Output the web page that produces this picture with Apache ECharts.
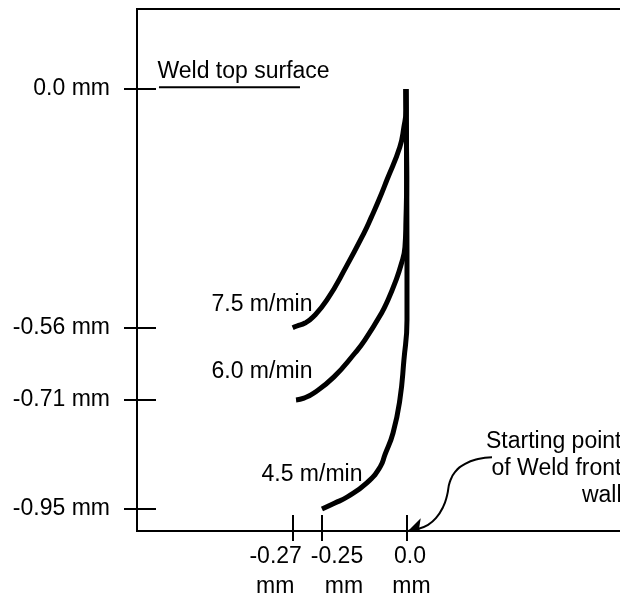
<!DOCTYPE html>
<html>
<head>
<meta charset="utf-8">
<script src="https://cdn.jsdelivr.net/npm/echarts@6/dist/echarts.min.js"></script>
<style>
html,body{margin:0;padding:0;background:#fff;}
#chart{width:620px;height:596px;}
</style>
</head>
<body>
<div id="chart"></div>
<script>
// ---------------- data (mm) ----------------
const speedLabels = ['7.5 m/min', '6.0 m/min', '4.5 m/min'];

// 7.5 m/min weld front profile
const x75 = [-0.003, -0.003, -0.009, -0.021, -0.0588, -0.0824, -0.1044, -0.1265, -0.1794, -0.2353, -0.2561, -0.2616, -0.2671, -0.27];
const y75 = [0, -0.049, -0.089, -0.136, -0.213, -0.260, -0.300, -0.338, -0.418, -0.495, -0.535, -0.549, -0.556, -0.56];

// 6.0 m/min weld front profile
const x60 = [-0.003, -0.001, -0.003, -0.006, -0.0176, -0.0353, -0.0559, -0.075, -0.1235, -0.1529, -0.2147, -0.2555, -0.2623, -0.2677];
const y60 = [0, -0.213, -0.307, -0.371, -0.413, -0.455, -0.495, -0.526, -0.5855, -0.6125, -0.662, -0.6955, -0.706, -0.71];

// 4.5 m/min weld front profile
const x45 = [-0.003, 0, 0, -0.009, -0.021, -0.041, -0.065, -0.079, -0.118, -0.176, -0.212, -0.25];
const y45 = [0, -0.378, -0.542, -0.627, -0.71, -0.7827, -0.831, -0.8575, -0.8927, -0.9236, -0.9368, -0.95];

// tick values and labels
const yTickValues = [0, -0.56, -0.71, -0.95];
const yTickLabels = ['0.0 mm', '-0.56 mm', '-0.71 mm', '-0.95 mm'];
const xTickValues = [-0.27, -0.25, 0];
const xTickLabels = ['-0.27', '-0.25', '0.0'];
const xTickUnit = 'mm';

// ---------------- schematic (not-to-scale) axis mapping ----------------
// The original figure is a sketch: its axes are not linear in mm.
// These stops map mm -> linear axis units (piecewise linear).
const X_STOPS = [[-0.27, -0.3362], [-0.25, -0.25], [0, 0]];
const Y_STOPS = [[-0.95, -0.9502], [-0.71, -0.7036], [-0.56, -0.540], [0, 0]];
function warp(v, stops) {
  let i = 0;
  while (i < stops.length - 2 && v > stops[i + 1][0]) i++;
  const a0 = stops[i][0], b0 = stops[i][1], a1 = stops[i + 1][0], b1 = stops[i + 1][1];
  return b0 + (v - a0) * (b1 - b0) / (a1 - a0);
}
const wx = v => warp(v, X_STOPS);
const wy = v => warp(v, Y_STOPS);
const curve = (xs, ys) => xs.map((x, i) => [wx(x), wy(ys[i])]);

// ---------------- annotations (in axis units) ----------------
const surfaceLine = [[-0.7294, 0.0038], [-0.3147, 0.0038]];
const arrowShaft = [[0.25, -0.833], [0.209, -0.837], [0.171, -0.848], [0.141, -0.867], [0.126, -0.889],
  [0.118, -0.919], [0.106, -0.946], [0.085, -0.971], [0.062, -0.986], [0.032, -0.9955]];
const arrowHead = [[0.032, -0.9955], [0.003, -1.0]];

const FONT = '"Liberation Sans", Arial, sans-serif';
const FS = 23;
const black = '#000';

const chart = echarts.init(document.getElementById('chart'), null, {renderer: 'canvas'});

function findIdx(vals, v) {
  for (let i = 0; i < vals.length; i++) if (Math.abs(vals[i] - v) < 1e-6) return i;
  return -1;
}
const xTickPos = xTickValues.map(wx);
const yTickPos = yTickValues.map(wy);

const xLabelStyles = ['a', 'b', 'c'];
const baseRich = {color: black, fontSize: FS, fontFamily: FONT, lineHeight: 30};
const rich = {
  a1: Object.assign({}, baseRich, {padding: [0, 34, 0, 0]}),
  a2: Object.assign({}, baseRich, {padding: [0, 35, 0, 0]}),
  b1: Object.assign({}, baseRich, {padding: [0, 0, 0, 30]}),
  b2: Object.assign({}, baseRich, {padding: [0, 0, 0, 44]}),
  c1: Object.assign({}, baseRich, {padding: [0, 0, 0, 6]}),
  c2: Object.assign({}, baseRich, {padding: [0, 0, 0, 9]})
};
function xLabelFormatter(v) {
  const i = findIdx(xTickPos, v);
  if (i < 0) return '';
  const s = xLabelStyles[i];
  return '{' + s + '1|' + xTickLabels[i] + '}\n{' + s + '2|' + xTickUnit + '}';
}

const xAxisCommon = {type: 'value', min: -0.794, max: 0.7, position: 'bottom',
  axisLine: {show: false, onZero: false}, splitLine: {show: false}};
const yAxisCommon = {type: 'value', min: -1.0, max: 0.181, position: 'left',
  axisLine: {show: false, onZero: false}, splitLine: {show: false}};
const xLabelCommon = {show: true, margin: 11, verticalAlign: 'top', hideOverlap: false,
  showMinLabel: true, showMaxLabel: true, formatter: xLabelFormatter, rich: rich};

function textPoint(x, y, text, side, extra) {
  // side: label placed to the 'left' (right-aligned) or 'right' (left-aligned) of the anchor
  return {
    value: [x, y],
    label: Object.assign({
      show: true, position: side, distance: 0, formatter: text,
      align: side === 'left' ? 'right' : 'left', verticalAlign: 'middle',
      color: black, fontSize: FS, fontFamily: FONT, textBorderWidth: 0
    }, extra || {})
  };
}

const option = {
  animation: false,
  backgroundColor: '#fff',
  grid: {left: 137, top: 9, width: 508, height: 522, containLabel: false, outerBoundsMode: 'none',
    show: true, borderColor: black, borderWidth: 2, backgroundColor: 'transparent'},
  xAxis: [
    Object.assign({}, xAxisCommon, {
      axisTick: {show: true, inside: false, length: 10, customValues: xTickPos, lineStyle: {color: black, width: 2}},
      axisLabel: Object.assign({}, xLabelCommon, {customValues: [xTickPos[0]]})
    }),
    Object.assign({}, xAxisCommon, {
      axisTick: {show: true, inside: true, length: 16, customValues: xTickPos, lineStyle: {color: black, width: 2}},
      axisLabel: Object.assign({}, xLabelCommon, {customValues: [xTickPos[1], xTickPos[2]]})
    })
  ],
  yAxis: [
    Object.assign({}, yAxisCommon, {
      axisTick: {show: true, inside: false, length: 13, customValues: yTickPos, lineStyle: {color: black, width: 2}},
      axisLabel: {show: true, customValues: yTickPos, margin: 27, color: black, fontSize: FS, fontFamily: FONT,
        hideOverlap: false, showMinLabel: true, showMaxLabel: true,
        formatter: function (v) { const i = findIdx(yTickPos, v); return i < 0 ? '' : yTickLabels[i]; }}
    }),
    Object.assign({}, yAxisCommon, {
      axisTick: {show: true, inside: true, length: 19, customValues: yTickPos, lineStyle: {color: black, width: 2}},
      axisLabel: {show: false}
    })
  ],
  series: [
    {name: speedLabels[0], type: 'line', data: curve(x75, y75), smooth: 0.5, symbol: 'none', clip: false, silent: true,
      lineStyle: {color: black, width: 5}},
    {name: speedLabels[1], type: 'line', data: curve(x60, y60), smooth: 0.5, symbol: 'none', clip: false, silent: true,
      lineStyle: {color: black, width: 5}},
    {name: speedLabels[2], type: 'line', data: curve(x45, y45), smooth: 0.5, symbol: 'none', clip: false, silent: true,
      lineStyle: {color: black, width: 5}},
    {type: 'line', data: surfaceLine, symbol: 'none', clip: false, silent: true, lineStyle: {color: black, width: 2}},
    {type: 'line', data: arrowShaft, smooth: 0.5, symbol: 'none', clip: false, silent: true, lineStyle: {color: black, width: 2}},
    {type: 'lines', coordinateSystem: 'cartesian2d', silent: true, symbol: ['none', 'arrow'], symbolSize: 15,
      lineStyle: {color: black, width: 2, opacity: 1}, data: [{coords: arrowHead}]},
    {type: 'scatter', symbolSize: 1, itemStyle: {color: 'rgba(0,0,0,0)', opacity: 1}, silent: true, clip: false,
      data: [
        textPoint(-0.735294, 0.038462, 'Weld top surface', 'right'),
        textPoint(-0.276471, -0.488688, speedLabels[0], 'left'),
        textPoint(-0.276471, -0.640271, speedLabels[1], 'left'),
        textPoint(-0.129412, -0.873303, speedLabels[2], 'left'),
        textPoint(0.632353, -0.859729, 'Starting point\nof Weld front\nwall', 'left', {lineHeight: 27})
      ]}
  ]
};
chart.setOption(option);
</script>
</body>
</html>
